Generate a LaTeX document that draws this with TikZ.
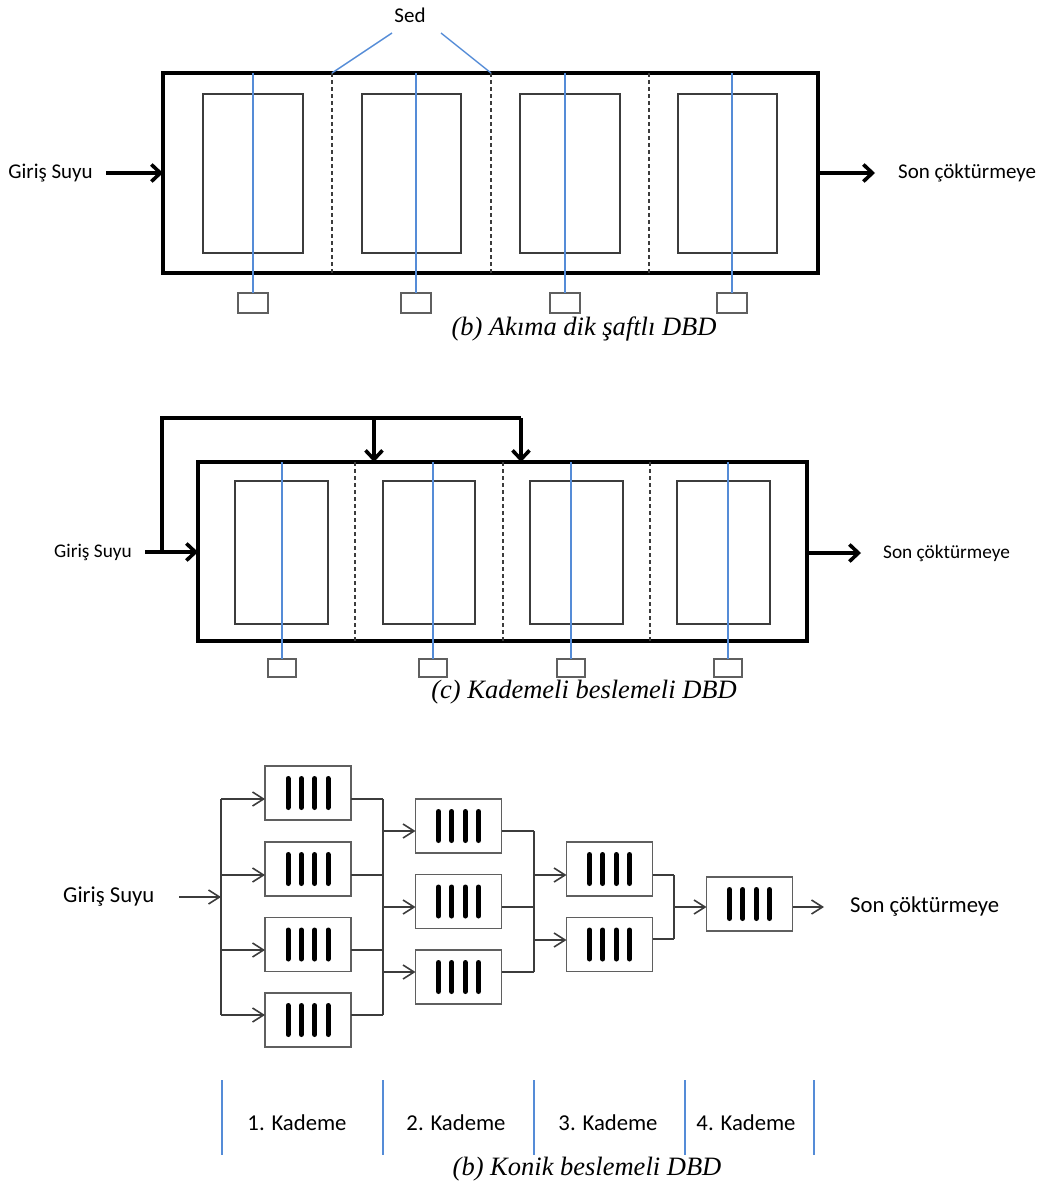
\documentclass[tikz,border=0pt]{standalone}
\usepackage{fontspec}
\setmainfont{Carlito}
\newfontfamily\capfont{Liberation Serif}
\usetikzlibrary{arrows.meta,calc}
\definecolor{dgray}{RGB}{60,60,60}
\definecolor{mgray}{RGB}{95,95,95}
\definecolor{shaftblue}{RGB}{85,140,215}
\tikzset{
  tank/.style={draw=black,line width=3.6pt,inner sep=0pt,outer sep=0pt},
  disc/.style={draw=dgray,line width=1.7pt,inner sep=0pt,outer sep=0pt},
  sbox/.style={draw=mgray,line width=1.4pt,inner sep=0pt,outer sep=0pt,minimum width=30pt,minimum height=20pt},
  sboxc/.style={sbox,minimum width=28pt,minimum height=18pt},
  shaft/.style={draw=shaftblue,line width=1.4pt},
  partline/.style={draw=dgray,line width=1.4pt,dash pattern=on 4pt off 3pt},
  flow/.style={draw=black,line width=3.6pt,-{Straight Barb[length=9pt,width=17pt]}},
  feedline/.style={draw=black,line width=3.4pt},
  dflow/.style={draw=dgray,line width=1.6pt,-{Straight Barb[length=11pt,width=14pt]}},
  dline/.style={draw=dgray,line width=1.6pt},
  rbc/.style={draw=mgray,line width=1.6pt,inner sep=0pt,outer sep=0pt,minimum width=86pt,minimum height=54pt,
    path picture={\foreach \dx in {-20,-6.67,6.67,20}{\draw[black,line width=5pt,line cap=round]
      ([xshift=\dx pt,yshift=14.5pt]path picture bounding box.center) -- ([xshift=\dx pt,yshift=-14.5pt]path picture bounding box.center);}}},
  lblb/.style={font=\fontsize{21}{25}\selectfont,inner sep=0pt},
  lblc/.style={font=\fontsize{19.3}{23}\selectfont,inner sep=0pt},
  lbld/.style={font=\fontsize{22.7}{27}\selectfont,inner sep=0pt},
  caption/.style={font=\capfont\itshape\fontsize{26.5}{31}\selectfont,inner sep=0pt},
}
\begin{document}
\begin{tikzpicture}[x=1pt,y=-1pt]
\useasboundingbox (0,0) rectangle (1040,1189);

% ================= (b) Akima dik saftli DBD =================
\node[tank,minimum width=655pt,minimum height=200pt] (bT) at (490.5,173) {};
\node[disc,minimum width=100pt,minimum height=159pt] (bd1r) at (253,173.5) {};
\node[disc,minimum width=99pt,minimum height=159pt] (bd2r) at (411.5,173.5) {};
\node[disc,minimum width=100pt,minimum height=159pt] (bd3r) at (570,173.5) {};
\node[disc,minimum width=99pt,minimum height=159pt] (bd4r) at (727.5,173.5) {};
\node[sbox] (bs1) at (253,303) {};
\node[sbox] (bs2) at (416,303) {};
\node[sbox] (bs3) at (565,303) {};
\node[sbox] (bs4) at (732,303) {};
\foreach \s in {bs1,bs2,bs3,bs4} \draw[shaft] (bT.north -| \s) -- (\s.north);
\coordinate (bp1) at (332,173);
\coordinate (bp2) at (491,173);
\coordinate (bp3) at (649,173);
\foreach \p in {bp1,bp2,bp3} \draw[partline] (bT.north -| \p) -- (bT.south -| \p);
\node[lblb] (sed) at (410,15) {Sed};
\coordinate (sl1) at (392,33);
\coordinate (sl2) at (441,33);
\draw[shaft] (sl1) -- (bT.north -| bp1);
\draw[shaft] (sl2) -- (bT.north -| bp2);
\node[lblb,anchor=east] (bgir) at (93,173) {Giriş Suyu};
\coordinate (bin) at (106,173);
\draw[flow] (bin) -- (bT.west);
\coordinate (bout) at (875,173);
\draw[flow] (bT.east) -- (bout);
\node[lblb,anchor=west] (bson) at (898,173) {Son çöktürmeye};
\node[caption] (capb) at (584,329) {(b) Akıma dik şaftlı DBD};

% ================= (c) Kademeli beslemeli DBD =================
\node[tank,minimum width=609pt,minimum height=179pt] (cT) at (502.5,551.5) {};
\node[disc,minimum width=93pt,minimum height=143pt] (cd1r) at (281.5,552.5) {};
\node[disc,minimum width=92pt,minimum height=143pt] (cd2r) at (429,552.5) {};
\node[disc,minimum width=93pt,minimum height=143pt] (cd3r) at (576.5,552.5) {};
\node[disc,minimum width=93pt,minimum height=143pt] (cd4r) at (723.5,552.5) {};
\node[sboxc] (cs1) at (282,668) {};
\node[sboxc] (cs2) at (433,668) {};
\node[sboxc] (cs3) at (571,668) {};
\node[sboxc] (cs4) at (728,668) {};
\foreach \s in {cs1,cs2,cs3,cs4} \draw[shaft] (cT.north -| \s) -- (\s.north);
\coordinate (cp1) at (355,552);
\coordinate (cp2) at (503,552);
\coordinate (cp3) at (650,552);
\foreach \p in {cp1,cp2,cp3} \draw[partline] (cT.north -| \p) -- (cT.south -| \p);
\node[lblc,anchor=east] (cgir) at (132,552) {Giriş Suyu};
\coordinate (cin) at (145,552);
\draw[flow] (cin) -- (cin -| cT.west);
\coordinate (cf0) at (162,552);
\coordinate (cf1) at (162,418);
\coordinate (cf2) at (374,418);
\coordinate (cf3) at (521,418);
\draw[feedline] (cf0) -- (cf1) -- (cf3);
\draw[flow] (cf2) -- (cf2 |- cT.north);
\draw[flow] (cf3) -- (cf3 |- cT.north);
\coordinate (cout) at (861,553);
\draw[flow] (cT.east |- cout) -- (cout);
\node[lblc,anchor=west] (cson) at (883,553) {Son çöktürmeye};
\node[caption] (capc) at (584,692) {(c) Kademeli beslemeli DBD};

% ================= (d) Konik beslemeli DBD =================
\node[rbc] (s11) at (308,793) {};
\node[rbc] (s12) at (308,869) {};
\node[rbc] (s13) at (308,944.5) {};
\node[rbc] (s14) at (308,1020) {};
\node[rbc] (s21) at (458.5,826) {};
\node[rbc] (s22) at (458.5,901.5) {};
\node[rbc] (s23) at (458.5,977) {};
\node[rbc] (s31) at (609.5,869) {};
\node[rbc] (s32) at (609.5,944.5) {};
\node[rbc] (s41) at (749.5,904) {};

\node[lbld,anchor=west] (dgir) at (63,897) {Giriş Suyu};
\coordinate (din) at (179,897);
\coordinate (dj) at (221,897);
\draw[dflow] (din) -- (dj);
\coordinate (a1) at (221,799);
\coordinate (a2) at (221,875);
\coordinate (a3) at (221,950);
\coordinate (a4) at (221,1015);
\draw[dline] (a1) -- (a4);
\draw[dflow] (a1) -- (a1 -| s11.west);
\draw[dflow] (a2) -- (a2 -| s12.west);
\draw[dflow] (a3) -- (a3 -| s13.west);
\draw[dflow] (a4) -- (a4 -| s14.west);
\coordinate (q1) at (383,799);
\coordinate (q2) at (383,875);
\coordinate (q3) at (383,950);
\coordinate (q4) at (383,1015);
\draw[dline] (s11.east |- q1) -- (q1);
\draw[dline] (s12.east |- q2) -- (q2);
\draw[dline] (s13.east |- q3) -- (q3);
\draw[dline] (s14.east |- q4) -- (q4);
\draw[dline] (q1) -- (q4);
\coordinate (r1) at (383,831);
\coordinate (r2) at (383,907);
\coordinate (r3) at (383,972);
\draw[dflow] (r1) -- (r1 -| s21.west);
\draw[dflow] (r2) -- (r2 -| s22.west);
\draw[dflow] (r3) -- (r3 -| s23.west);
\coordinate (t1) at (534,831);
\coordinate (t2) at (534,907);
\coordinate (t3) at (534,972);
\draw[dline] (s21.east |- t1) -- (t1);
\draw[dline] (s22.east |- t2) -- (t2);
\draw[dline] (s23.east |- t3) -- (t3);
\draw[dline] (t1) -- (t3);
\coordinate (u1) at (534,875);
\coordinate (u2) at (534,940);
\draw[dflow] (u1) -- (u1 -| s31.west);
\draw[dflow] (u2) -- (u2 -| s32.west);
\coordinate (v1) at (674,875);
\coordinate (v2) at (674,939);
\draw[dline] (s31.east |- v1) -- (v1);
\draw[dline] (s32.east |- v2) -- (v2);
\draw[dline] (v1) -- (v2);
\coordinate (w) at (674,907);
\draw[dflow] (w) -- (w -| s41.west);
\coordinate (dout) at (824,907);
\draw[dflow] (s41.east |- dout) -- (dout);
\node[lbld,anchor=west] (dson) at (850,907) {Son çöktürmeye};

\foreach \x in {222,383,534,685,814} \draw[shaft] (\x,1080) -- (\x,1155);
\node[lbld] (k1) at (297,1123) {1. Kademe};
\node[lbld] (k2) at (456,1123) {2. Kademe};
\node[lbld] (k3) at (608,1123) {3. Kademe};
\node[lbld] (k4) at (746,1123) {4. Kademe};
\node[caption] (capd) at (587,1169) {(b) Konik beslemeli DBD};
\end{tikzpicture}
\end{document}
